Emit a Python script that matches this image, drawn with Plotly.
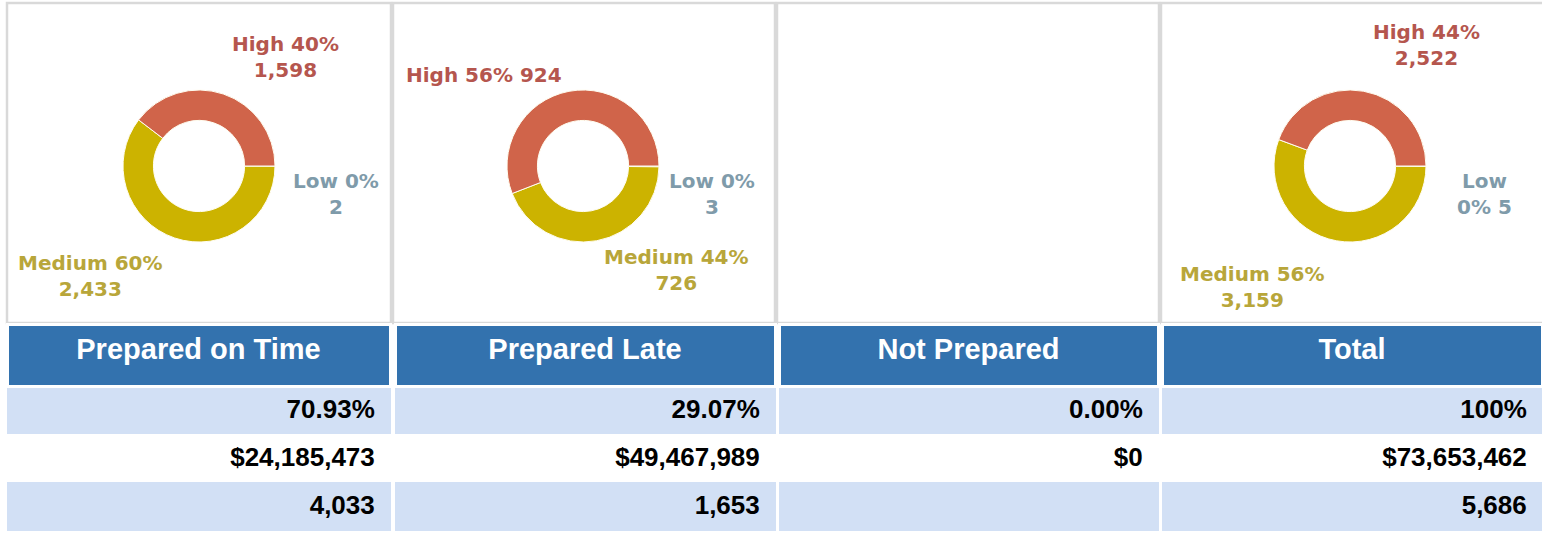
import plotly.graph_objects as go

# ---------------- data ----------------
columns = ["Prepared on Time", "Prepared Late", "Not Prepared", "Total"]
levels = ["High", "Medium", "Low"]
high_counts = [1598, 924, 0, 2522]
medium_counts = [2433, 726, 0, 3159]
low_counts = [2, 3, 0, 5]
pct_row = ["70.93%", "29.07%", "0.00%", "100%"]
amount_row = ["$24,185,473", "$49,467,989", "$0", "$73,653,462"]
count_row = ["4,033", "1,653", "", "5,686"]

# ---------------- style ----------------
W, H = 1542, 535
slice_colors = {"High": "#D0644A", "Medium": "#CCB300", "Low": "#8FA9B6"}
label_colors = {"High": "#B5564E", "Medium": "#B8A63A", "Low": "#7F9BAA"}
header_blue = "#3372AE"
row_light = "#D2E0F5"
panel_line = "#D9D9D9"

# panel boxes (px) and donut centres (px)
panels = [(7, 391), (393, 775), (777, 1159), (1161, 1546)]
centers_x = [199, 583, 967, 1350]
center_y = 166
radius = 76
# table column extents (px)
table_cols = [(7, 391), (395, 775), (779, 1158), (1162, 1542)]
table_top = 324.5
# label anchor positions in px
label_pos = [
    {"High": (285, 57), "Medium": (90, 276), "Low": (336, 194)},
    {"High": (484, 75), "Medium": (676, 270), "Low": (712, 194)},
    None,
    {"High": (1426, 45), "Medium": (1252, 287), "Low": (1484, 194)},
]
label_breaks = [
    {"High": "pct", "Medium": "pct", "Low": "pct"},
    {"High": None, "Medium": "pct", "Low": "pct"},
    None,
    {"High": "pct", "Medium": "pct", "Low": "name"},
]


def px_x(x):
    return x / W


def px_y(y):
    return 1 - y / H


fig = go.Figure()

# panel frames
for (x0, x1) in panels:
    fig.add_shape(type="rect", xref="paper", yref="paper",
                  x0=px_x(x0), x1=px_x(x1), y0=px_y(323), y1=px_y(3),
                  line=dict(color=panel_line, width=2.5), fillcolor="white", layer="below")

for i in range(4):
    counts = {"High": high_counts[i], "Medium": medium_counts[i], "Low": low_counts[i]}
    total = sum(counts.values())
    if total == 0:
        continue
    cx = centers_x[i]
    # drawn clockwise from 3 o'clock: Low, Medium, High (High ends at 3 o'clock from above)
    order = list(reversed(levels))
    fig.add_trace(go.Pie(
        labels=order, values=[counts[k] for k in order], sort=False, direction="clockwise",
        rotation=90, hole=0.6, textinfo="none", hoverinfo="label+value+percent",
        marker=dict(colors=[slice_colors[k] for k in order], line=dict(color="#FFFDF0", width=1)),
        domain=dict(x=[px_x(cx - radius), px_x(cx + radius)],
                    y=[px_y(center_y + radius), px_y(center_y - radius)]),
        showlegend=False,
    ))
    for lev in levels:
        pct = round(100 * counts[lev] / total)
        cnt = f"{counts[lev]:,}"
        brk = label_breaks[i][lev]
        if brk == "pct":
            txt = f"{lev} {pct}%<br>{cnt}"
        elif brk == "name":
            txt = f"{lev}<br>{pct}% {cnt}"
        else:
            txt = f"{lev} {pct}% {cnt}"
        lx, ly = label_pos[i][lev]
        fig.add_annotation(x=px_x(lx), y=px_y(ly), xref="paper", yref="paper",
                           text=f"<b>{txt}</b>", showarrow=False,
                           xanchor="center", yanchor="middle", align="center",
                           font=dict(family="DejaVu Sans", size=20, color=label_colors[lev]))

# table: one block per column so that columns are separated by white gaps
NB = "\u00a0"
cell_fills = [row_light, "white", row_light]
for k in range(4):
    x0, x1 = table_cols[k]
    fig.add_trace(go.Table(
        domain=dict(x=[px_x(x0), min(px_x(x1), 1.0)], y=[0, px_y(table_top)]),
        header=dict(values=[f"<b>{columns[k]}</b>"],
                    fill_color=header_blue, align="center", height=61.5,
                    line=dict(color="white", width=3),
                    font=dict(family="Liberation Sans", size=29, color="white")),
        cells=dict(values=[[f"<b>{pct_row[k]}</b>{NB}",
                            f"<b>{amount_row[k]}</b>{NB}",
                            f"<b>{count_row[k]}</b>{NB}"]],
                   fill_color=[cell_fills], align="right", height=48,
                   line=dict(color=[cell_fills], width=1),
                   font=dict(family="Liberation Sans", size=26, color="black")),
    ))

fig.update_layout(width=W, height=H, margin=dict(l=0, r=0, t=0, b=0),
                  paper_bgcolor="white", plot_bgcolor="white", showlegend=False)

fig.write_html("out.html", config={"displayModeBar": False},
               post_script="document.body.style.margin='0';")
